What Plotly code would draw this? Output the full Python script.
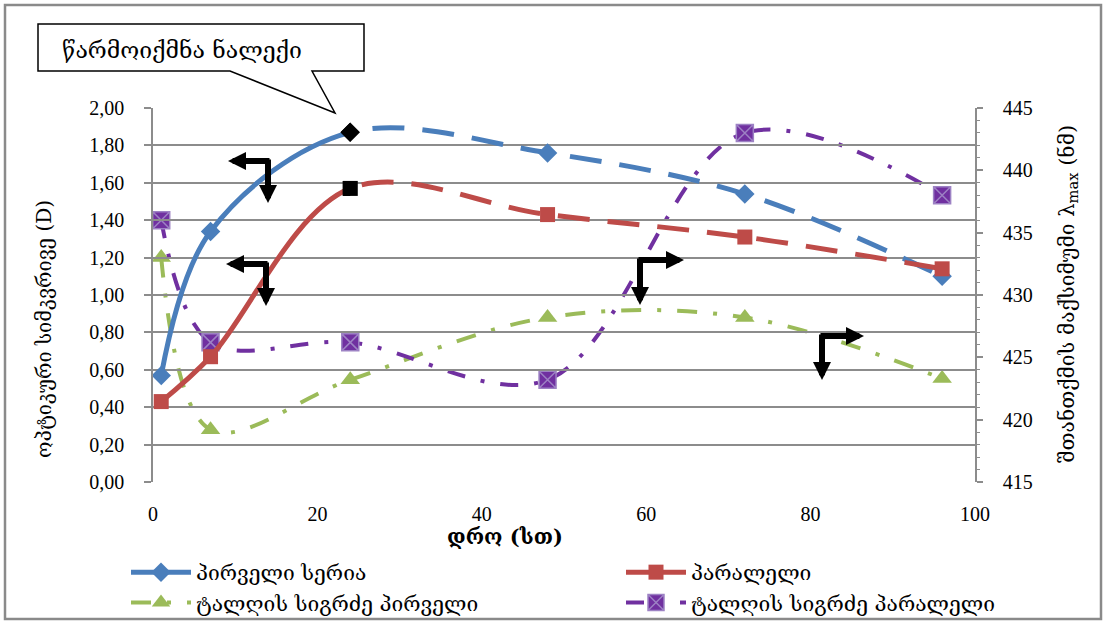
import plotly.graph_objects as go

# Sampling times (hours) and measured values
hours = [1, 7, 24, 48, 72, 96]
series_1_D = [0.57, 1.34, 1.87, 1.76, 1.54, 1.10]      # optical density, first series
parallel_D = [0.43, 0.67, 1.57, 1.43, 1.31, 1.14]      # optical density, parallel
wl_series_1 = [433.0, 419.2, 423.2, 428.2, 428.2, 423.3]  # lambda max, first series
wl_parallel = [436.0, 426.2, 426.2, 423.2, 443.0, 438.0]  # lambda max, parallel
precipitate_at = 24  # hour at which the precipitate appears

names = ["პირველი სერია", "პარალელი", "ტალღის სიგრძე პირველი", "ტალღის სიგრძე პარალელი"]
x_ticks = [0, 20, 40, 60, 80, 100]
x_range = [0, 100]

BLUE = "#4A7EBB"
RED = "#BE4B48"
GREEN = "#9BBB59"
PURPLE = "#7030A0"
GRID = "#8C8C8C"
GEO = "DejaVu Serif, DejaVu Sans"
NUM = "Liberation Serif, Times New Roman, serif"

W, H = 1106, 624
L, R, T, B = 153, 131, 108, 142
PW, PH = W - L - R, H - T - B


def px(x):
    return (x - L) / PW


def py(y):
    return (H - B - y) / PH


split = (precipitate_at - x_range[0]) / (x_range[1] - x_range[0])

fig = go.Figure()

# Wavelength of the absorption maximum on the right axis
fig.add_trace(go.Scatter(
    x=hours, y=wl_series_1, mode="lines+markers", name=names[2], yaxis="y2",
    legend="legend", cliponaxis=False, legendrank=3,
    line=dict(color=GREEN, width=4, shape="spline", smoothing=1.0, dash="20px,16px,4px,16px"),
    marker=dict(symbol="triangle-up", size=17, color=GREEN)))
fig.add_trace(go.Scatter(
    x=hours, y=wl_parallel, mode="lines+markers", name=names[3], yaxis="y2",
    legend="legend2", cliponaxis=False, legendrank=4,
    line=dict(color=PURPLE, width=4, shape="spline", smoothing=1.0, dash="18px,16px,4px,16px"),
    marker=dict(symbol="square-x", size=17, color=PURPLE,
                line=dict(color="#9D82C4", width=1.5))))

# Optical density curves: the same smooth curve is drawn solid on a hidden axis
# clipped to [0, 24 h] and dashed on a hidden axis clipped to [24 h, 100 h].
for vals, col, sym, name, lg, rank in [(series_1_D, BLUE, "diamond", names[0], "legend", 1),
                                       (parallel_D, RED, "square", names[1], "legend2", 2)]:
    mcols = [("black" if h == precipitate_at else col) for h in hours]
    fig.add_trace(go.Scatter(
        x=hours, y=vals, mode="lines+markers", name=name, legend=lg, legendrank=rank,
        xaxis="x2", yaxis="y", hoverinfo="skip",
        line=dict(color=col, width=5, shape="spline", smoothing=1.0),
        marker=dict(symbol=sym, size=15, color=mcols), legendgroup=name))
    fig.add_trace(go.Scatter(
        x=hours, y=vals, mode="lines", showlegend=False, legend=lg,
        xaxis="x3", yaxis="y", hoverinfo="skip",
        line=dict(color=col, width=5, shape="spline", smoothing=1.0, dash="32px,18px"),
        legendgroup=name))
for vals, col, sym, name, lg in [(series_1_D, BLUE, "diamond", names[0], "legend"),
                                 (parallel_D, RED, "square", names[1], "legend2")]:
    mcols = [("black" if h == precipitate_at else col) for h in hours]
    fig.add_trace(go.Scatter(
        x=hours, y=vals, mode="markers", showlegend=False, legend=lg,
        xaxis="x3", yaxis="y", cliponaxis=False,
        marker=dict(symbol=sym, size=15, color=mcols), legendgroup=name))

shapes = []
# outer chart border
shapes.append(dict(type="rect", xref="paper", yref="paper",
                   x0=px(5), x1=px(1101), y0=py(619), y1=py(5),
                   line=dict(color="#8A8A8A", width=2.5), layer="below"))
# speech-bubble callout
pts = [(38, 24), (364, 24), (364, 71), (312, 71), (335, 113), (230, 71), (38, 71)]
path = "M " + " L ".join(f"{px(a):.5f},{py(b):.5f}" for a, b in pts) + " Z"
shapes.append(dict(type="path", xref="paper", yref="paper", path=path,
                   fillcolor="white", line=dict(color="black", width=1.5)))

annotations = [
    dict(text="წარმოიქმნა ნალექი", xref="paper", yref="paper", x=px(60), y=py(50),
         xanchor="left", yanchor="middle", showarrow=False,
         font=dict(family=GEO, size=23, color="black")),
    dict(text="<b>დრო (სთ)</b>", xref="paper", yref="paper", x=px(505), y=py(536),
         xanchor="center", yanchor="middle", showarrow=False,
         font=dict(family=GEO, size=21, color="black")),
    dict(text="ოპტიკური სიმკვრივე (D)", xref="paper", yref="paper", x=px(44), y=py(329),
         xanchor="center", yanchor="middle", showarrow=False, textangle=-90,
         font=dict(family=GEO, size=20, color="black")),
    dict(text="შთანთქმის მაქსიმუმი λ<sub>max</sub> (ნმ)", xref="paper", yref="paper",
         x=px(1068), y=py(294), xanchor="center", yanchor="middle", showarrow=False,
         textangle=-90, font=dict(family=GEO, size=21, color="black")),
]

# elbow arrows pointing to the axis each curve belongs to
elbows = [((268, 161), (228, 161), (268, 203)),
          ((266, 264), (226, 264), (266, 306)),
          ((640, 260), (684, 260), (640, 305)),
          ((822, 336), (864, 336), (822, 380))]
for (cx, cy), (hx, hy), (vx, vy) in elbows:
    sx = 3 if hx < cx else -3
    annotations.append(dict(x=px(hx), y=py(hy), xref="paper", yref="paper", text="",
                            showarrow=True, arrowhead=2, arrowsize=0.6, arrowwidth=6,
                            arrowcolor="black", ax=cx + sx - hx, ay=cy - hy))
    annotations.append(dict(x=px(vx), y=py(vy), xref="paper", yref="paper", text="",
                            showarrow=True, arrowhead=2, arrowsize=0.6, arrowwidth=6,
                            arrowcolor="black", ax=cx - vx, ay=cy - 3 - vy))

legend_style = dict(orientation="v", yanchor="top", xanchor="left",
                    tracegroupgap=0, bgcolor="rgba(0,0,0,0)", itemwidth=60,
                    font=dict(family=GEO, size=21, color="black"))

hidden_x = dict(visible=False, showgrid=False, zeroline=False, anchor="y")

fig.update_layout(
    width=W, height=H, autosize=False,
    margin=dict(l=L, r=R, t=T, b=B, autoexpand=False),
    paper_bgcolor="white", plot_bgcolor="rgba(0,0,0,0)",
    separators=", ",
    showlegend=True,
    legend=dict(x=px(126), y=py(552), **legend_style),
    legend2=dict(x=px(621), y=py(552), **legend_style),
    xaxis=dict(range=x_range, tickvals=x_ticks, showgrid=False, zeroline=False,
               showline=False, ticks="", ticklabelstandoff=18,
               tickfont=dict(family=NUM, size=20, color="black")),
    xaxis2=dict(range=[x_range[0], precipitate_at], domain=[0, split], **hidden_x),
    xaxis3=dict(range=[precipitate_at, x_range[1]], domain=[split, 1], **hidden_x),
    yaxis=dict(range=[0, 2], dtick=0.2, tickformat=".2f", showgrid=True,
               gridcolor=GRID, gridwidth=1.5, zeroline=False,
               showline=True, linecolor=GRID, linewidth=1.5,
               ticks="outside", ticklen=7, tickcolor=GRID, tickwidth=1.5,
               ticklabelstandoff=16,
               tickfont=dict(family=NUM, size=20, color="black")),
    yaxis2=dict(range=[415, 445], dtick=5, overlaying="y", side="right",
                showgrid=False, zeroline=False, showline=True, linecolor=GRID,
                linewidth=1.5, ticks="outside", ticklen=6, tickcolor=GRID,
                tickwidth=1.5, ticklabelstandoff=16,
                minor=dict(dtick=1, ticks="outside", ticklen=3, tickcolor=GRID,
                           tickwidth=1.2),
                tickfont=dict(family=NUM, size=20, color="black")),
    shapes=shapes,
    annotations=annotations,
)

fig.write_html("out.html")
